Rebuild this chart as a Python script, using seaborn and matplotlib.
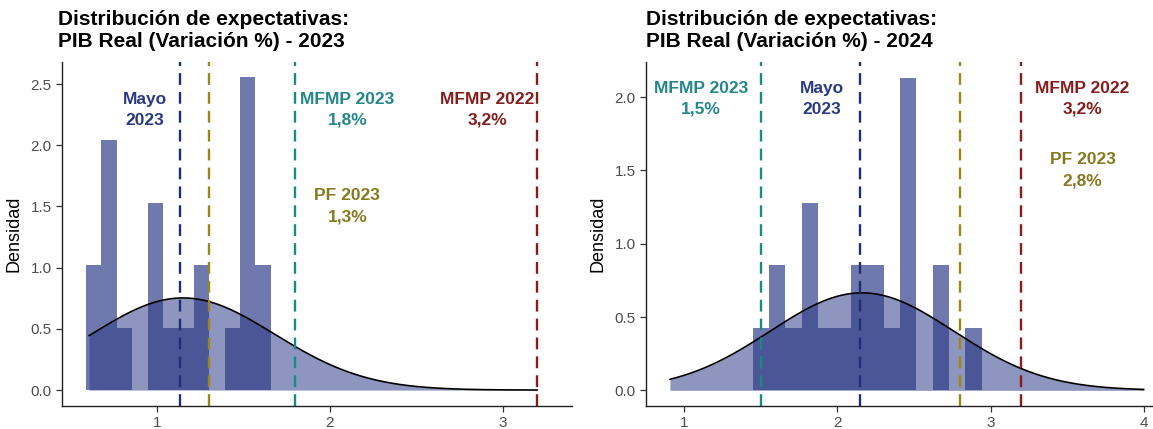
import numpy as np
import pandas as pd
import matplotlib
matplotlib.use("Agg")
import matplotlib.pyplot as plt
import seaborn as sns

# ---------------- data ----------------
# 2023 panel: histogram bins (left edge, width) and counts of forecasts
bins_start_2023 = 0.589
bin_width_2023 = 0.089
counts_2023 = [2, 4, 1, 0, 3, 1, 1, 2, 0, 1, 5, 2]
norm_mean_2023, norm_sd_2023 = 1.15, 0.53
curve_range_2023 = [0.606, 3.2]

# 2024 panel
bins_start_2024 = 1.447
bin_width_2024 = 0.1067
counts_2024 = [1, 2, 1, 3, 1, 1, 2, 2, 1, 5, 0, 2, 0, 1]
norm_mean_2024, norm_sd_2024 = 2.16, 0.60
curve_range_2024 = [0.906, 4.0]

# reference lines (value, label, colour key)
ref_names = ["Mayo", "PF", "MFMP2023", "MFMP2022"]
ref_2023 = [1.13, 1.3, 1.8, 3.2]
ref_2024 = [2.15, 2.8, 1.5, 3.2]
labels_2023 = ["Mayo\n2023", "PF 2023\n1,3%", "MFMP 2023\n1,8%", "MFMP 2022\n3,2%"]
labels_2024 = ["Mayo\n2023", "PF 2023\n2,8%", "MFMP 2023\n1,5%", "MFMP 2022\n3,2%"]
label_x_2023 = [0.93, 2.10, 2.10, 2.91]
label_y_2023 = [2.29, 1.50, 2.29, 2.29]
label_x_2024 = [1.90, 3.60, 1.11, 3.60]
label_y_2024 = [1.99, 1.50, 1.99, 1.99]

titles = ["Distribución de expectativas:\nPIB Real (Variación %) - 2023",
          "Distribución de expectativas:\nPIB Real (Variación %) - 2024"]

# ---------------- style ----------------
sns.set_theme(style="ticks")
plt.rcParams["font.family"] = ["Liberation Sans", "DejaVu Sans"]

fill_col = "#2a3785"
line_cols = {"Mayo": "#1f2d78", "PF": "#9c8614", "MFMP2023": "#1a8a86", "MFMP2022": "#8b1a1a"}
text_cols = {"Mayo": "#2b3a86", "PF": "#857a1e", "MFMP2023": "#23878a", "MFMP2022": "#861c1c"}

W, H = 1153, 429
fig = plt.figure(figsize=(W / 100, H / 100), dpi=100)

panels = [
    dict(start=bins_start_2023, width=bin_width_2023, counts=counts_2023,
         mu=norm_mean_2023, sd=norm_sd_2023, crange=curve_range_2023,
         refs=ref_2023, labels=labels_2023, lx=label_x_2023, ly=label_y_2023,
         xlim=(0.45, 3.40), ylim=(-0.13, 2.68), yticks=np.arange(0, 2.51, 0.5),
         xticks=[1, 2, 3], rect=[62, 62, 572, 406], title=titles[0], tx=58),
    dict(start=bins_start_2024, width=bin_width_2024, counts=counts_2024,
         mu=norm_mean_2024, sd=norm_sd_2024, crange=curve_range_2024,
         refs=ref_2024, labels=labels_2024, lx=label_x_2024, ly=label_y_2024,
         xlim=(0.75, 4.06), ylim=(-0.107, 2.24), yticks=np.arange(0, 2.01, 0.5),
         xticks=[1, 2, 3, 4], rect=[646, 62, 1153, 406], title=titles[1], tx=646),
]

for p in panels:
    x0, y0, x1, y1 = p["rect"]
    ax = fig.add_axes([x0 / W, 1 - y1 / H, (x1 - x0) / W, (y1 - y0) / H])
    n = len(p["counts"])
    lo = p["start"]
    hi = p["start"] + p["width"] * n
    centers = lo + p["width"] * (np.arange(n) + 0.5)
    df = pd.DataFrame({"x": centers, "w": np.asarray(p["counts"], dtype=float)})
    sns.histplot(data=df, x="x", weights="w", bins=n, binrange=(lo, hi), stat="density",
                 color=fill_col, alpha=0.67, edgecolor="none", linewidth=0, ax=ax)

    xs = np.linspace(p["crange"][0], p["crange"][1], 400)
    ys = np.exp(-0.5 * ((xs - p["mu"]) / p["sd"]) ** 2) / (p["sd"] * np.sqrt(2 * np.pi))
    ax.fill_between(xs, 0, ys, color=fill_col, alpha=0.53, linewidth=0)
    sns.lineplot(x=xs, y=ys, color="black", linewidth=1.2, ax=ax)

    for name, v, lab, lx, ly in zip(ref_names, p["refs"], p["labels"], p["lx"], p["ly"]):
        ax.axvline(v, color=line_cols[name], linestyle=(0, (5, 3)), linewidth=1.7)
        ax.text(lx, ly, lab, color=text_cols[name], fontsize=12.5, fontweight="bold",
                ha="center", va="center", linespacing=1.5)

    ax.set_xlim(*p["xlim"])
    ax.set_ylim(*p["ylim"])
    ax.set_xticks(p["xticks"])
    ax.set_yticks(p["yticks"])
    ax.set_yticklabels([f"{t:.1f}" for t in p["yticks"]])
    ax.set_xlabel("")
    ax.set_ylabel("Densidad", fontsize=13, color="black", labelpad=6)
    ax.tick_params(axis="both", labelsize=11, labelcolor="#4d4d4d", color="#333333",
                   length=4, width=0.9)
    for s in ["top", "right"]:
        ax.spines[s].set_visible(False)
    for s in ["left", "bottom"]:
        ax.spines[s].set_color("#222222")
        ax.spines[s].set_linewidth(1.0)

    fig.text(p["tx"] / W, 1 - 10 / H, p["title"], fontsize=15, fontweight="bold",
             ha="left", va="top", linespacing=1.2, color="black")

fig.savefig("out.png", dpi=100)
